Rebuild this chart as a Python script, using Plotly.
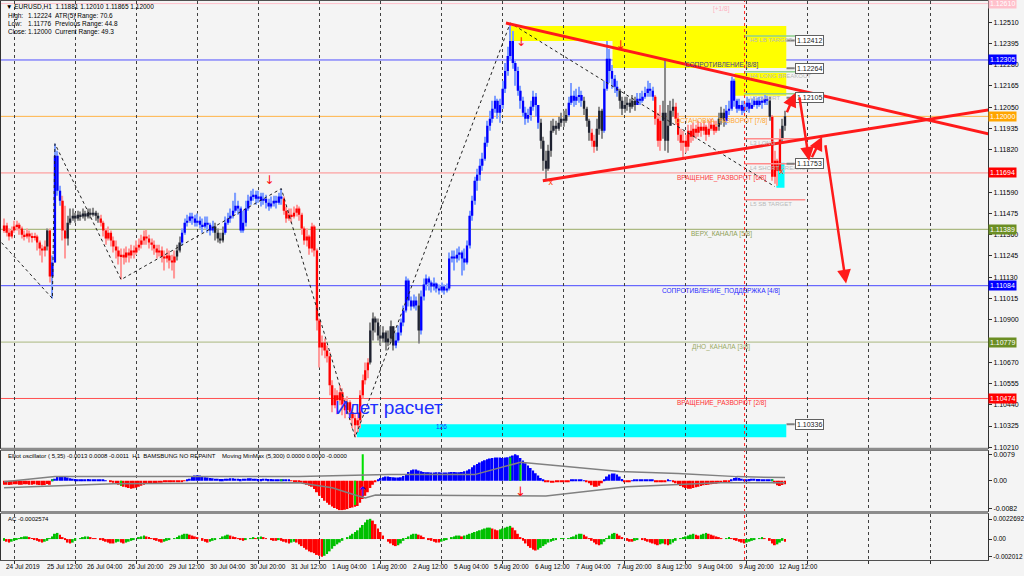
import numpy as np
import plotly.graph_objects as go

# ------------------------------------------------------------------ data
# EURUSD H1 candles, bar 0 = 24 Jul 2019 20:00 (weekend hours skipped)
CLOSE = [
 1.11409,1.11371,1.11350,1.11382,1.11404,1.11414,1.11393,1.11360,1.11350,1.11366,
 1.11350,1.11344,1.11350,1.11317,1.11285,1.11274,1.11296,1.11382,1.11134,1.11209,
 1.11787,1.11598,1.11544,1.11382,1.11339,1.11425,1.11447,1.11463,1.11447,1.11468,
 1.11458,1.11474,1.11458,1.11479,1.11468,1.11479,1.11463,1.11447,1.11425,1.11382,
 1.11339,1.11371,1.11328,1.11296,1.11274,1.11242,1.11252,1.11236,1.11263,1.11247,
 1.11274,1.11263,1.11290,1.11306,1.11328,1.11350,1.11339,1.11317,1.11306,1.11285,
 1.11263,1.11274,1.11242,1.11231,1.11247,1.11220,1.11209,1.11242,1.11274,1.11317,
 1.11371,1.11425,1.11436,1.11458,1.11447,1.11425,1.11436,1.11414,1.11404,1.11425,
 1.11414,1.11382,1.11404,1.11371,1.11339,1.11328,1.11371,1.11425,1.11447,1.11463,
 1.11490,1.11517,1.11501,1.11382,1.11425,1.11501,1.11544,1.11566,1.11576,1.11555,
 1.11566,1.11544,1.11555,1.11533,1.11512,1.11528,1.11544,1.11533,1.11566,1.11555,
 1.11490,1.11447,1.11468,1.11458,1.11479,1.11501,1.11468,1.11393,1.11328,1.11350,
 1.11285,1.11404,1.11274,1.10896,1.10750,1.10777,1.10734,1.10702,1.10545,1.10437,
 1.10491,1.10464,1.10507,1.10442,1.10410,1.10453,1.10399,1.10367,1.10329,1.10356,
 1.10491,1.10572,1.10626,1.10669,1.10842,1.10907,1.10885,1.10815,1.10799,1.10831,
 1.10777,1.10799,1.10864,1.10761,1.10788,1.10831,1.10885,1.10950,1.11112,1.11004,
 1.10972,1.11004,1.10977,1.10842,1.11026,1.11090,1.11123,1.11101,1.11080,1.11096,
 1.11069,1.11058,1.11080,1.11058,1.11069,1.11231,1.11242,1.11231,1.11252,1.11263,
 1.11231,1.11209,1.11301,1.11463,1.11544,1.11652,1.11684,1.11733,1.11771,1.11857,
 1.11949,1.11987,1.12041,1.12084,1.12019,1.12062,1.12149,1.12246,1.12327,1.12408,
 1.12289,1.12246,1.12138,1.12084,1.12019,1.11987,1.12008,1.12052,1.12106,1.12062,
 1.11965,1.11868,1.11760,1.11717,1.11814,1.11922,1.11949,1.11933,1.11965,1.11987,
 1.11976,1.12008,1.12073,1.12111,1.12084,1.12106,1.12116,1.12084,1.12041,1.11976,
 1.11911,1.11868,1.11836,1.11933,1.12030,1.11922,1.12149,1.12311,1.12246,1.12203,
 1.12160,1.12138,1.12084,1.12041,1.12062,1.12073,1.12052,1.12084,1.12062,1.12095,
 1.12084,1.12106,1.12127,1.12149,1.12138,1.12106,1.11987,1.11868,1.11976,1.12019,
 1.11868,1.11949,1.12030,1.12052,1.11987,1.11900,1.11857,1.11868,1.11836,1.11922,
 1.11890,1.11933,1.11911,1.11944,1.11922,1.11944,1.11900,1.11933,1.11954,1.11922,
 1.11944,1.11987,1.12019,1.11976,1.12030,1.12041,1.12192,1.12084,1.12041,1.12062,
 1.12030,1.12052,1.12073,1.12041,1.12062,1.12084,1.12062,1.12084,1.12073,1.12095,
 1.12084,1.11998,1.11674,1.11760,1.11706,1.11879,1.11949,1.12000]
HIGH = [
 1.11447,1.11425,1.11393,1.11404,1.11436,1.11436,1.11425,1.11404,1.11382,1.11393,
 1.11382,1.11371,1.11371,1.11360,1.11328,1.11306,1.11328,1.11393,1.11393,1.11247,
 1.11852,1.11814,1.11625,1.11571,1.11517,1.11463,1.11501,1.11501,1.11479,1.11490,
 1.11485,1.11501,1.11490,1.11501,1.11501,1.11506,1.11490,1.11479,1.11468,1.11436,
 1.11393,1.11404,1.11382,1.11350,1.11328,1.11296,1.11285,1.11285,1.11296,1.11285,
 1.11306,1.11301,1.11328,1.11339,1.11360,1.11382,1.11387,1.11360,1.11339,1.11328,
 1.11306,1.11306,1.11296,1.11274,1.11285,1.11274,1.11252,1.11274,1.11306,1.11350,
 1.11393,1.11447,1.11468,1.11479,1.11479,1.11468,1.11474,1.11458,1.11447,1.11458,
 1.11458,1.11425,1.11436,1.11425,1.11393,1.11371,1.11404,1.11458,1.11479,1.11501,
 1.11544,1.11587,1.11544,1.11512,1.11490,1.11544,1.11576,1.11598,1.11609,1.11598,
 1.11598,1.11587,1.11587,1.11576,1.11555,1.11566,1.11571,1.11571,1.11587,1.11609,
 1.11566,1.11512,1.11501,1.11501,1.11512,1.11522,1.11512,1.11479,1.11404,1.11393,
 1.11360,1.11425,1.11414,1.11285,1.10907,1.10815,1.10799,1.10761,1.10723,1.10572,
 1.10529,1.10518,1.10545,1.10529,1.10475,1.10486,1.10464,1.10421,1.10388,1.10399,
 1.10518,1.10604,1.10669,1.10691,1.10885,1.10939,1.10918,1.10907,1.10864,1.10864,
 1.10842,1.10842,1.10896,1.10853,1.10831,1.10869,1.10907,1.10977,1.11134,1.11123,
 1.11026,1.11036,1.11026,1.11042,1.11058,1.11123,1.11144,1.11134,1.11112,1.11128,
 1.11101,1.11090,1.11101,1.11090,1.11096,1.11263,1.11274,1.11274,1.11285,1.11296,
 1.11274,1.11285,1.11328,1.11490,1.11571,1.11674,1.11717,1.11771,1.11803,1.11890,
 1.11976,1.12030,1.12084,1.12111,1.12095,1.12095,1.12192,1.12289,1.12376,1.12505,
 1.12462,1.12300,1.12268,1.12165,1.12106,1.12052,1.12041,1.12084,1.12138,1.12127,
 1.12062,1.11987,1.11890,1.11814,1.11846,1.11976,1.11987,1.11976,1.11998,1.12019,
 1.12030,1.12041,1.12106,1.12181,1.12138,1.12149,1.12160,1.12138,1.12106,1.12052,
 1.11987,1.11933,1.11900,1.11987,1.12052,1.12041,1.12192,1.12408,1.12365,1.12278,
 1.12224,1.12192,1.12149,1.12106,1.12106,1.12106,1.12095,1.12116,1.12106,1.12127,
 1.12127,1.12138,1.12160,1.12192,1.12181,1.12160,1.12116,1.12019,1.12062,1.12084,
 1.12311,1.12062,1.12084,1.12095,1.12073,1.12019,1.11933,1.11922,1.11900,1.11954,
 1.11954,1.11965,1.11954,1.11976,1.11965,1.11976,1.11954,1.11976,1.11987,1.11976,
 1.11976,1.12019,1.12052,1.12041,1.12062,1.12084,1.12214,1.12203,1.12095,1.12095,
 1.12084,1.12084,1.12106,1.12095,1.12095,1.12106,1.12100,1.12106,1.12106,1.12116,
 1.12111,1.12106,1.12008,1.11814,1.11771,1.11933,1.11987,1.12030]
LOW = [
 1.11371,1.11350,1.11328,1.11339,1.11371,1.11382,1.11360,1.11339,1.11328,1.11339,
 1.11317,1.11317,1.11328,1.11274,1.11247,1.11209,1.11242,1.11274,1.11101,1.11015,
 1.11209,1.11571,1.11517,1.11328,1.11231,1.11301,1.11414,1.11436,1.11425,1.11436,
 1.11436,1.11447,1.11436,1.11447,1.11447,1.11458,1.11436,1.11425,1.11404,1.11350,
 1.11306,1.11328,1.11296,1.11263,1.11231,1.11198,1.11117,1.11198,1.11209,1.11209,
 1.11231,1.11231,1.11252,1.11274,1.11285,1.11306,1.11306,1.11285,1.11274,1.11252,
 1.11231,1.11242,1.11209,1.11166,1.11209,1.11177,1.11166,1.11123,1.11220,1.11263,
 1.11301,1.11360,1.11404,1.11425,1.11414,1.11404,1.11404,1.11393,1.11371,1.11393,
 1.11371,1.11355,1.11371,1.11328,1.11317,1.11312,1.11317,1.11360,1.11414,1.11425,
 1.11447,1.11479,1.11468,1.11371,1.11371,1.11404,1.11490,1.11522,1.11544,1.11522,
 1.11533,1.11512,1.11522,1.11501,1.11490,1.11501,1.11512,1.11501,1.11522,1.11522,
 1.11468,1.11425,1.11436,1.11425,1.11447,1.11458,1.11436,1.11360,1.11306,1.11296,
 1.11252,1.11263,1.11242,1.10842,1.10642,1.10707,1.10691,1.10669,1.10491,1.10399,
 1.10421,1.10388,1.10437,1.10383,1.10367,1.10388,1.10356,1.10313,1.10264,1.10291,
 1.10313,1.10475,1.10550,1.10583,1.10658,1.10788,1.10831,1.10788,1.10761,1.10777,
 1.10734,1.10756,1.10777,1.10734,1.10745,1.10777,1.10815,1.10864,1.10939,1.10972,
 1.10950,1.10961,1.10950,1.10772,1.10820,1.11004,1.11058,1.11058,1.11047,1.11058,
 1.11047,1.11036,1.11047,1.11036,1.11047,1.11058,1.11209,1.11166,1.11209,1.11220,
 1.11139,1.11166,1.11198,1.11285,1.11436,1.11522,1.11598,1.11652,1.11706,1.11760,
 1.11836,1.11922,1.11965,1.12019,1.11987,1.11965,1.12041,1.12127,1.12219,1.12300,
 1.12257,1.12165,1.12111,1.12041,1.11998,1.11954,1.11965,1.11976,1.12030,1.11998,
 1.11933,1.11825,1.11706,1.11663,1.11706,1.11782,1.11911,1.11900,1.11922,1.11944,
 1.11944,1.11965,1.11998,1.12062,1.12052,1.12062,1.12073,1.12052,1.12008,1.11944,
 1.11868,1.11836,1.11803,1.11814,1.11900,1.11879,1.11911,1.12138,1.12181,1.12149,
 1.12127,1.12106,1.12041,1.12008,1.12019,1.12030,1.12019,1.12041,1.12030,1.12062,
 1.12062,1.12073,1.12095,1.12106,1.12106,1.12084,1.11954,1.11836,1.11814,1.11879,
 1.11814,1.11803,1.11976,1.11998,1.11954,1.11868,1.11814,1.11776,1.11803,1.11814,
 1.11857,1.11868,1.11879,1.11890,1.11890,1.11900,1.11868,1.11890,1.11922,1.11900,
 1.11911,1.11922,1.11954,1.11944,1.11954,1.12008,1.12030,1.12052,1.12019,1.12030,
 1.12008,1.12019,1.12030,1.12019,1.12041,1.12052,1.12041,1.12052,1.12041,1.12062,
 1.12062,1.11976,1.11652,1.11636,1.11625,1.11695,1.11857,1.11922]
FIRST_OPEN = 1.11380
# candle colour runs: b = blue, r = red, k = dark
CANDLE_COLOR_RUNS = [('r',17),('k',1),('r',1),('b',4),('r',2),('k',13),('r',30),('k',2),
    ('b',13),('k',4),('b',23),('r',34),('k',10),('b',9),('k',1),('b',47),('k',11),('b',6),
    ('k',3),('r',2),('k',3),('b',6),('k',7),('b',7),('r',3),('k',5),('r',17),('k',3),
    ('b',17),('k',1),('r',4),('k',2)]

# Elliot oscillator histogram
OSC = [
 -0.0012,-0.0012,-0.0013,-0.0012,-0.0011,-0.0011,-0.0012,-0.0012,-0.0011,-0.0011,-0.0012,-0.0012,-0.0011,-0.0012,-0.0013,-0.0014,-0.0013,-0.0010,-0.0012,
 0.0003,
 0.0006,0.0012,0.0014,0.0013,0.0011,0.0009,0.0007,0.0006,
 0.0005,0.0004,0.0004,0.0003,0.0004,0.0005,0.0004,0.0003,0.0004,0.0003,0.0002,
 0.0002,0.0001,0.0000,
 -0.0003,-0.0006,-0.0009,-0.0012,-0.0015,-0.0018,-0.0020,-0.0022,-0.0024,-0.0023,-0.0021,-0.0018,-0.0015,-0.0012,-0.0010,-0.0009,-0.0008,-0.0008,-0.0007,
 -0.0006,-0.0006,-0.0005,-0.0005,-0.0004,-0.0004,-0.0003,-0.0003,-0.0002,-0.0002,-0.0001,0.0002,
 0.0006,0.0012,0.0015,0.0016,0.0015,0.0012,0.0010,0.0009,
 0.0008,0.0007,0.0006,0.0006,0.0005,0.0005,0.0006,0.0006,0.0007,0.0007,
 0.0006,0.0006,0.0005,0.0006,0.0006,0.0007,0.0007,0.0006,0.0006,0.0005,
 0.0005,0.0006,0.0006,0.0005,0.0005,0.0004,0.0004,0.0004,
 0.0004,0.0003,0.0003,0.0002,
 -0.0001,-0.0002,-0.0003,-0.0004,-0.0006,-0.0009,
 -0.0012,-0.0015,-0.0018,-0.0025,-0.0035,-0.0045,-0.0052,
 -0.0060,-0.0066,-0.0072,-0.0077,-0.0082,-0.0085,-0.0088,-0.0088,-0.0087,
 -0.0085,-0.0082,-0.0080,-0.0078,-0.0076,
 -0.0066,-0.0055,-0.0045,-0.0035,-0.0022,-0.0012,-0.0003,
 0.0004,0.0008,0.0010,0.0012,0.0012,0.0011,0.0010,0.0009,0.0009,
 0.0010,0.0014,0.0020,0.0026,0.0031,0.0033,0.0033,
 0.0030,0.0028,0.0026,0.0025,0.0025,0.0024,0.0024,0.0025,0.0025,0.0024,
 0.0024,0.0024,0.0025,0.0026,0.0026,0.0025,0.0025,0.0026,0.0028,
 0.0030,0.0034,0.0040,0.0046,0.0050,0.0054,0.0058,0.0061,0.0064,0.0066,
 0.0068,0.0069,0.0069,0.0069,0.0068,0.0069,0.0070,0.0072,
 0.0075,0.0079,0.0076,0.0068,
 0.0060,0.0052,0.0045,0.0038,0.0030,0.0022,0.0015,0.0008,0.0002,
 -0.0003,-0.0005,-0.0006,-0.0006,-0.0005,-0.0005,-0.0004,-0.0004,-0.0003,-0.0002,
 0.0002,0.0003,0.0004,0.0003,0.0002,0.0001,
 -0.0003,-0.0008,-0.0014,-0.0018,-0.0018,-0.0015,-0.0008,
 0.0004,0.0012,0.0018,0.0021,0.0021,0.0018,0.0012,0.0005,
 -0.0002,-0.0003,-0.0002,0.0001,0.0002,0.0002,0.0003,0.0002,0.0002,0.0003,
 0.0003,0.0002,-0.0002,-0.0004,-0.0004,-0.0003,-0.0002,0.0002,0.0001,
 -0.0004,-0.0008,-0.0012,-0.0016,-0.0020,-0.0022,-0.0024,-0.0024,-0.0022,-0.0020,
 -0.0018,-0.0016,-0.0014,-0.0013,-0.0012,-0.0011,-0.0010,-0.0009,-0.0008,-0.0007,
 -0.0005,-0.0004,-0.0002,
 0.0004,0.0008,0.0009,0.0008,0.0006,0.0004,0.0004,0.0005,0.0006,0.0006,
 0.0005,0.0005,0.0004,0.0004,0.0003,0.0002,
 0.0002,-0.0008,-0.0014,-0.0016,-0.0013,-0.0011]
OSC_SIGNAL_IDX = [19, 46, 109, 138, 141, 199, 203, 302]
OSC_SIGNAL_VAL = [0.0003, -0.0015, 0.0004, -0.0073, 0.0079, 0.0069, 0.0048, 0.0002]
OSC_UPPER_IDX = [0, 20, 116, 151, 185, 203, 220, 242, 265, 288, 307]
OSC_UPPER_VAL = [-0.0003, 0.0012, 0.0012, 0.0018, 0.0018, 0.0055, 0.0043, 0.0027, 0.0021, 0.0012, 0.0009]
OSC_LOWER_IDX = [0, 43, 116, 129, 138, 142, 146, 213, 245, 281, 307]
OSC_LOWER_VAL = [-0.0021, -0.0009, -0.0006, -0.0021, -0.0043, -0.0052, -0.0043, -0.0046, -0.0018, -0.0006, -0.0006]

# Accelerator oscillator
AC = [
 -0.0002,-0.0003,-0.0004,-0.0003,-0.0002,-0.0001,
 0.0001,0.0002,0.0003,0.0003,0.0002,0.0001,
 -0.0001,-0.0002,-0.0003,-0.0004,-0.0003,-0.0002,
 0.0001,0.0003,0.0006,0.0007,0.0005,
 0.0002,-0.0001,-0.0004,-0.0005,-0.0004,-0.0002,
 0.0000,0.0001,0.0002,0.0003,0.0003,0.0002,0.0001,0.0001,0.0000,-0.0001,
 -0.0002,-0.0003,-0.0004,-0.0005,-0.0005,-0.0004,-0.0003,-0.0004,-0.0005,-0.0004,-0.0003,-0.0002,-0.0001,
 0.0000,0.0002,0.0003,0.0004,0.0003,0.0002,
 0.0001,-0.0001,-0.0002,-0.0003,-0.0004,-0.0003,-0.0002,-0.0001,0.0000,
 0.0001,0.0002,0.0004,0.0005,0.0006,0.0006,0.0005,0.0004,0.0003,0.0002,
 0.0000,-0.0002,-0.0003,-0.0004,-0.0003,-0.0002,-0.0001,
 0.0000,0.0001,0.0003,0.0004,0.0005,0.0004,0.0003,0.0002,0.0001,
 -0.0001,-0.0002,-0.0001,0.0000,0.0001,0.0002,0.0001,
 0.0002,0.0003,0.0002,0.0001,0.0000,-0.0001,-0.0002,-0.0002,-0.0001,
 -0.0002,-0.0003,-0.0004,-0.0005,-0.0004,-0.0003,-0.0004,-0.0006,
 -0.0008,-0.0010,-0.0012,-0.0014,-0.0015,-0.0016,-0.0018,-0.0019,-0.0020,-0.0019,-0.0017,
 -0.0014,-0.0011,-0.0008,-0.0006,-0.0004,-0.0002,0.0000,0.0002,
 0.0004,0.0006,0.0008,0.0010,0.0013,0.0016,0.0019,0.0022,
 0.0023,0.0021,0.0017,0.0012,
 0.0008,0.0004,0.0000,-0.0003,-0.0005,-0.0007,-0.0008,-0.0007,-0.0005,
 -0.0002,0.0001,0.0003,0.0005,0.0006,0.0006,0.0005,0.0004,0.0002,0.0000,
 -0.0001,-0.0002,-0.0003,-0.0004,-0.0004,-0.0003,-0.0002,-0.0001,
 0.0000,0.0002,0.0003,0.0004,0.0004,0.0003,0.0004,0.0005,0.0006,0.0007,
 0.0008,0.0009,0.0010,0.0011,0.0012,0.0013,0.0013,0.0012,0.0011,0.0010,0.0011,
 0.0012,0.0013,0.0014,0.0015,0.0013,0.0010,
 0.0006,0.0002,-0.0002,-0.0005,-0.0008,-0.0010,-0.0012,-0.0013,-0.0012,-0.0010,-0.0008,
 -0.0006,-0.0004,-0.0003,-0.0002,-0.0001,0.0000,0.0001,0.0001,0.0000,0.0001,
 0.0002,0.0003,0.0005,0.0006,0.0006,0.0005,0.0003,0.0001,
 -0.0002,-0.0004,-0.0006,-0.0007,-0.0006,
 -0.0003,0.0001,0.0004,0.0006,0.0007,0.0006,0.0004,
 0.0002,0.0000,-0.0002,-0.0003,-0.0003,-0.0002,-0.0001,0.0000,-0.0001,
 -0.0002,-0.0003,-0.0004,-0.0005,-0.0006,-0.0007,-0.0006,-0.0005,-0.0006,-0.0007,-0.0006,-0.0004,-0.0002,
 0.0000,0.0001,0.0002,0.0003,0.0004,0.0005,0.0006,0.0005,0.0004,
 0.0005,0.0006,0.0007,0.0006,0.0005,0.0004,0.0003,0.0002,0.0001,0.0000,0.0001,0.0002,
 0.0001,-0.0001,-0.0002,-0.0003,-0.0004,-0.0005,-0.0004,-0.0003,-0.0002,-0.0001,0.0000,
 0.0001,0.0002,0.0001,0.0000,-0.0002,
 -0.0005,-0.0007,-0.0006,-0.0004,-0.0002,-0.0003]

# Murrey math levels
MURREY_PRICE = [1.10474, 1.10779, 1.11084, 1.11389, 1.11694, 1.12000, 1.12305, 1.12610]
MURREY_NAME = ["ВРАЩЕНИЕ_РАЗВОРОТ [2/8]", "ДНО_КАНАЛА [3/8]", "СОПРОТИВЛЕНИЕ_ПОДДЕРЖКА [4/8]",
               "ВЕРХ_КАНАЛА [5/8]", "ВРАЩЕНИЕ_РАЗВОРОТ [6/8]", "ОСТАНОВКА_РАЗВОРОТ [7/8]",
               "СОПРОТИВЛЕНИЕ [8/8]", "[+1/8]"]
MURREY_LABEL = ["1.10474", "1.10779", "1.11084", "1.11389", "1.11694", "1.12000", "1.12305", "1.12610"]
MURREY_LINE_COLOR = ["#FF5050", "#A9B77E", "#4848FF", "#99AA66", "#FF8C8C", "#FFB347", "#5050FF", "#FFC0CB"]
MURREY_TEXT_COLOR = ["#FF3030", "#9AAA66", "#2828FF", "#8E9F55", "#FF3A3A", "#FFA528", "#404090", "#FFB0C0"]
MURREY_BOX_COLOR = ["#FF0000", "#6B8E23", "#0000FF", "#6B8E23", "#FF0000", "#FFA500", "#0000FF", "#FFC0CB"]

# Camarilla style targets (drawn near the last bar)
TARGET_NAME = ["H5 LB TARGET", "H4 LONG BREAKOUT", "H3 SHORT", "L3 LONG", "L4 SHORT BREAKOUT", "L5 SB TARGET"]
TARGET_PRICE = [1.12435, 1.12241, 1.12122, 1.11879, 1.11744, 1.11549]
TARGET_COLOR = ["#8FD08F", "#8FD08F", "#8FD08F", "#FF8C8C", "#FF8C8C", "#FF8C8C"]
TARGET_START, TARGET_END = 291, 315

PRICE_BOX_TEXT = ["1.12412", "1.12264", "1.12105", "1.11753", "1.10336"]
PRICE_BOX_PRICE = [1.12410, 1.12260, 1.12100, 1.11744, 1.10334]

# zones: (start bar, end bar, low, high)
YELLOW_ZONES = [(198.9, 307.5, 1.12408, 1.12489), (239.2, 307.5, 1.12262, 1.12408), (287.2, 307.5, 1.12111, 1.12235)]
CYAN_ZONES = [(138.7, 307.5, 1.10264, 1.10334), (303.6, 306.8, 1.11614, 1.11749)]

# trend lines (bar, price) -> (bar, price)
TREND_LINES = [((197.3, 1.12505), (386.9, 1.11906)), ((211.8, 1.11652), (386.9, 1.12035))]
# projected path arrows (tail -> head)
PATH_ARROWS = [((307.5, 1.12014), (311.0, 1.12127)), ((312.6, 1.12111), (316.5, 1.11760)),
               ((317.3, 1.11771), (321.6, 1.11890)), ((322.8, 1.11852), (331.0, 1.11096))]
ZIGZAG_IDX = [-1, 19, 20, 46, 109, 138, 199, 303]
ZIGZAG_PRICE = [1.11317, 1.11015, 1.11852, 1.11117, 1.11609, 1.10264, 1.12505, 1.11620]
DOWN_ARROW_IDX = [104.3, 203.2, 242.3]
DOWN_ARROW_PRICE = [1.11652, 1.12397, 1.12381]
X_MARK_IDX = [214.9, 305.6]
X_MARK_PRICE = [1.11641, 1.11700]
SEPARATOR_BAR = 291.1

# axes
PRICE_TICKS = [1.12510, 1.12395, 1.12280, 1.12165, 1.12050, 1.11935, 1.11820, 1.11590, 1.11475,
               1.11360, 1.11245, 1.11130, 1.11015, 1.10900, 1.10670, 1.10555, 1.10440, 1.10325, 1.10210]
GRID_BARS = [4, 28, 52, 76, 100, 124, 148, 172, 196, 220, 244, 268, 292, 316, 340, 364]
DATE_BARS = [0, 16, 32, 48, 64, 80, 96, 112, 128, 144, 160, 176, 192, 208, 224, 240, 256, 272, 288, 304]
DATE_TEXT = ["24 Jul 2019", "25 Jul 12:00", "26 Jul 04:00", "26 Jul 20:00", "29 Jul 12:00", "30 Jul 04:00",
             "30 Jul 20:00", "31 Jul 12:00", "1 Aug 04:00", "1 Aug 20:00", "2 Aug 12:00", "5 Aug 04:00",
             "5 Aug 20:00", "6 Aug 12:00", "7 Aug 04:00", "7 Aug 20:00", "8 Aug 12:00", "9 Aug 04:00",
             "9 Aug 20:00", "12 Aug 12:00"]

# ------------------------------------------------------------------ build
n = len(CLOSE)
assert len(HIGH) == n and len(LOW) == n, (len(CLOSE), len(HIGH), len(LOW))
assert len(OSC) == n, len(OSC)
assert len(AC) == n, len(AC)
idx = np.arange(n)
c = np.array(CLOSE); h = np.array(HIGH); l = np.array(LOW)
o = np.concatenate([[FIRST_OPEN], c[:-1]])
h = np.maximum(h, np.maximum(o, c))
l = np.minimum(l, np.minimum(o, c))
codes = "".join(k * m for k, m in CANDLE_COLOR_RUNS)
assert len(codes) == n, len(codes)
BODY = {"b": "#0000FF", "r": "#FF0000", "k": "#1E2230"}
WICK = {"b": "#7F9FFF", "r": "#FF9A9A", "k": "#8A8A8A"}

BG = "#F4F4F4"
FONT = "Liberation Sans"
W_PLOT, H_PLOT = 993, 560

fig = go.Figure()
fig.add_trace(go.Bar(x=idx, y=h - l, base=l, width=0.45, xaxis="x", yaxis="y",
                     marker=dict(color=[WICK[k] for k in codes], line_width=0), hoverinfo="skip"))
fig.add_trace(go.Bar(x=idx, y=np.maximum(np.abs(c - o), 0.00005), base=np.minimum(o, c), width=0.92,
                     xaxis="x", yaxis="y", marker=dict(color=[BODY[k] for k in codes], line_width=0)))
fig.add_trace(go.Scatter(x=ZIGZAG_IDX, y=ZIGZAG_PRICE, mode="lines", xaxis="x", yaxis="y",
                         line=dict(color="#202020", width=1, dash="dot")))
fig.add_trace(go.Scatter(x=DOWN_ARROW_IDX, y=DOWN_ARROW_PRICE, mode="text", text=["↓"] * 3,
                         textfont=dict(color="#FF1010", size=12, family="DejaVu Sans"), xaxis="x", yaxis="y"))
fig.add_trace(go.Scatter(x=X_MARK_IDX, y=X_MARK_PRICE, mode="text", text=["x"] * 2,
                         textfont=dict(color="#FF3A00", size=9, family=FONT), xaxis="x", yaxis="y"))

# oscillator panel
osc = np.array(OSC)
fig.add_trace(go.Bar(x=idx, y=osc, width=0.75, xaxis="x2", yaxis="y2",
                     marker=dict(color=np.where(osc >= 0, "#0000FF", "#FF0000"), line_width=0)))
fig.add_trace(go.Bar(x=OSC_SIGNAL_IDX, y=OSC_SIGNAL_VAL, width=0.8, xaxis="x2", yaxis="y2",
                     marker=dict(color="#00E000", line_width=0)))
fig.add_trace(go.Scatter(x=OSC_UPPER_IDX, y=OSC_UPPER_VAL, mode="lines", xaxis="x2", yaxis="y2",
                         line=dict(color="#808080", width=1.5)))
fig.add_trace(go.Scatter(x=OSC_LOWER_IDX, y=OSC_LOWER_VAL, mode="lines", xaxis="x2", yaxis="y2",
                         line=dict(color="#808080", width=1.5)))
fig.add_trace(go.Scatter(x=[141, 203], y=[-0.0036, -0.0036], mode="text", text=["↑", "↓"],
                         textfont=dict(color=["#1010FF", "#FF1010"], size=13, family="DejaVu Sans"),
                         xaxis="x2", yaxis="y2"))

# AC panel
ac = np.array(AC)
ac_col = []
prev = "#00C000"
for i in range(n):
    if i > 0 and ac[i] > ac[i - 1]:
        prev = "#00C000"
    elif i > 0 and ac[i] < ac[i - 1]:
        prev = "#FF0000"
    ac_col.append(prev)
fig.add_trace(go.Bar(x=idx, y=ac, width=0.75, xaxis="x3", yaxis="y3",
                     marker=dict(color=ac_col, line_width=0)))

shapes = []
for p, col in zip(MURREY_PRICE, MURREY_LINE_COLOR):
    shapes.append(dict(type="line", xref="x domain", yref="y", x0=0, x1=1, y0=p, y1=p,
                       line=dict(color=col, width=1), layer="below"))
for (x0, x1, y0, y1) in YELLOW_ZONES:
    shapes.append(dict(type="rect", xref="x", yref="y", x0=x0, x1=x1, y0=y0, y1=y1,
                       fillcolor="#FFFF00", line_width=0, layer="below"))
for (x0, x1, y0, y1) in CYAN_ZONES:
    shapes.append(dict(type="rect", xref="x", yref="y", x0=x0, x1=x1, y0=y0, y1=y1,
                       fillcolor="#00FFFF", line_width=0, layer="below"))
for p, col in zip(TARGET_PRICE, TARGET_COLOR):
    shapes.append(dict(type="line", xref="x", yref="y", x0=TARGET_START, x1=TARGET_END, y0=p, y1=p,
                       line=dict(color=col, width=1.5)))
for p in PRICE_BOX_PRICE:
    shapes.append(dict(type="line", xref="x", yref="y", x0=307.6, x1=310.8, y0=p, y1=p,
                       line=dict(color="#808080", width=2)))
for (a, b) in TREND_LINES:
    shapes.append(dict(type="line", xref="x", yref="y", x0=a[0], y0=a[1], x1=b[0], y1=b[1],
                       line=dict(color="#FF1A1A", width=3)))
shapes.append(dict(type="line", xref="x", yref="paper", x0=SEPARATOR_BAR, x1=SEPARATOR_BAR, y0=0, y1=1,
                   line=dict(color="#FF2020", width=1, dash="dot")))
# panel separators
for yb in [(H_PLOT - 449) / H_PLOT, (H_PLOT - 512.5) / H_PLOT]:
    shapes.append(dict(type="line", xref="paper", yref="paper", x0=0, x1=1, y0=yb, y1=yb,
                       line=dict(color="#8C8C8C", width=3)))

ann = []
for p, name, tc in zip(MURREY_PRICE, MURREY_NAME, MURREY_TEXT_COLOR):
    ann.append(dict(x=282, y=p, xref="x", yref="y", text=name, showarrow=False, yshift=-5,
                    font=dict(size=6.5, color=tc, family=FONT)))
for p, lab, bc in zip(MURREY_PRICE, MURREY_LABEL, MURREY_BOX_COLOR):
    ann.append(dict(x=1.0, y=p, xref="paper", yref="y", text=lab, showarrow=False, xanchor="left",
                    bgcolor=bc, borderpad=1, font=dict(size=7, color="#FFFFFF", family=FONT)))
for p, name in zip(TARGET_PRICE, TARGET_NAME):
    ann.append(dict(x=292.5, y=p, xref="x", yref="y", text=name, showarrow=False, xanchor="left",
                    yshift=-4, font=dict(size=6, color="#B9B9B9", family=FONT)))
for p, t in zip(PRICE_BOX_PRICE, PRICE_BOX_TEXT):
    ann.append(dict(x=310.8, y=p, xref="x", yref="y", text=t, showarrow=False, xanchor="left",
                    bgcolor="#FFFFFF", bordercolor="#606060", borderwidth=1, borderpad=1,
                    font=dict(size=7, color="#202020", family=FONT)))
for (tail, head) in PATH_ARROWS:
    ann.append(dict(x=head[0], y=head[1], ax=tail[0], ay=tail[1], xref="x", yref="y", axref="x", ayref="y",
                    text="", showarrow=True, arrowhead=2, arrowsize=1.1, arrowwidth=2.5, arrowcolor="#FF1A1A"))
ann.append(dict(x=151.3, y=1.10426, xref="x", yref="y", text="Идет расчет", showarrow=False,
                font=dict(size=19, color="#2030FF", family=FONT)))
ann.append(dict(x=171.9, y=1.10324, xref="x", yref="y", text="126", showarrow=False,
                font=dict(size=6.5, color="#2030FF", family=FONT)))


def pann(xpx, ypx, text, size=6.5, color="#000000"):
    return dict(x=xpx / W_PLOT, y=(H_PLOT - ypx) / H_PLOT, xref="paper", yref="paper", text=text,
                showarrow=False, xanchor="left", yanchor="middle", font=dict(size=size, color=color, family=FONT))


ann += [pann(3, 6, "▼ EURUSD,H1  1.11881 1.12010 1.11865 1.12000"),
        pann(5, 15, "High:"), pann(25, 15, "1.12224"), pann(52, 15, "ATR(5) Range: 70.6"),
        pann(5, 23, "Low:"), pann(25, 23, "1.11776"), pann(52, 23, "Previous Range: 44.8"),
        pann(5, 31, "Close:"), pann(25, 31, "1.12000"), pann(52, 31, "Current Range: 49.3"),
        pann(5, 456, "Elliot oscillator ( 5,35) -0.0013 0.0008 -0.0011  H1  BAMSBUNG NO REPAINT    "
                     "Moving MinMax (5,300) 0.0000 0.0000 -0.0000", size=6),
        pann(5, 519, "AC -0.0002574", size=6)]
for b, t in zip(DATE_BARS, DATE_TEXT):
    ann.append(dict(x=b, y=(H_PLOT - 567) / H_PLOT, xref="x", yref="paper", text=t, showarrow=False,
                    xanchor="left", yanchor="middle", font=dict(size=6.5, color="#000000", family=FONT)))

XR = [-1.2, 386.8]
xcommon = dict(range=XR, tickvals=GRID_BARS, showgrid=True, gridcolor="#404040", griddash="dot",
               gridwidth=1, showticklabels=False, zeroline=False, showline=True, linecolor="#505050",
               mirror=True)
ycommon = dict(side="right", showgrid=False, zeroline=False, showline=True, linecolor="#303030",
               mirror=True, ticks="outside", ticklen=3, tickcolor="#303030",
               tickfont=dict(size=7, color="#000000", family=FONT))

fig.update_layout(
    width=1024, height=576, autosize=False,
    margin=dict(l=0, r=31, t=0, b=16),
    paper_bgcolor=BG, plot_bgcolor=BG,
    barmode="overlay", showlegend=False, hovermode=False,
    font=dict(family=FONT),
    xaxis=dict(xcommon, anchor="y", domain=[0, 1]),
    xaxis2=dict(xcommon, anchor="y2", matches="x", domain=[0, 1]),
    xaxis3=dict(xcommon, anchor="y3", matches="x", domain=[0, 1], ticks="outside", ticklen=3,
                tickcolor="#303030"),
    yaxis=dict(ycommon, domain=[(H_PLOT - 448) / H_PLOT, 1], anchor="x", range=[1.10205, 1.12624],
               tickvals=PRICE_TICKS, ticktext=["%.5f" % v for v in PRICE_TICKS]),
    yaxis2=dict(ycommon, domain=[(H_PLOT - 511) / H_PLOT, (H_PLOT - 451) / H_PLOT], anchor="x2",
                range=[-0.0091, 0.0088], tickvals=[0.0079, 0, -0.0082], ticktext=["0.0079", "0.00", "-0.0082"]),
    yaxis3=dict(ycommon, domain=[0, (H_PLOT - 514) / H_PLOT], anchor="x3",
                range=[-0.00238, 0.00284], tickvals=[0.0022692, 0, -0.002012],
                ticktext=["0.0022692", "0.00", "-0.002012"],
                tickfont=dict(size=6.5, color="#000000", family=FONT)),
    shapes=shapes, annotations=ann,
)

fig.write_html("out.html", config=dict(displayModeBar=False),
               post_script="document.body.style.margin='0px';document.body.style.overflow='hidden';")
